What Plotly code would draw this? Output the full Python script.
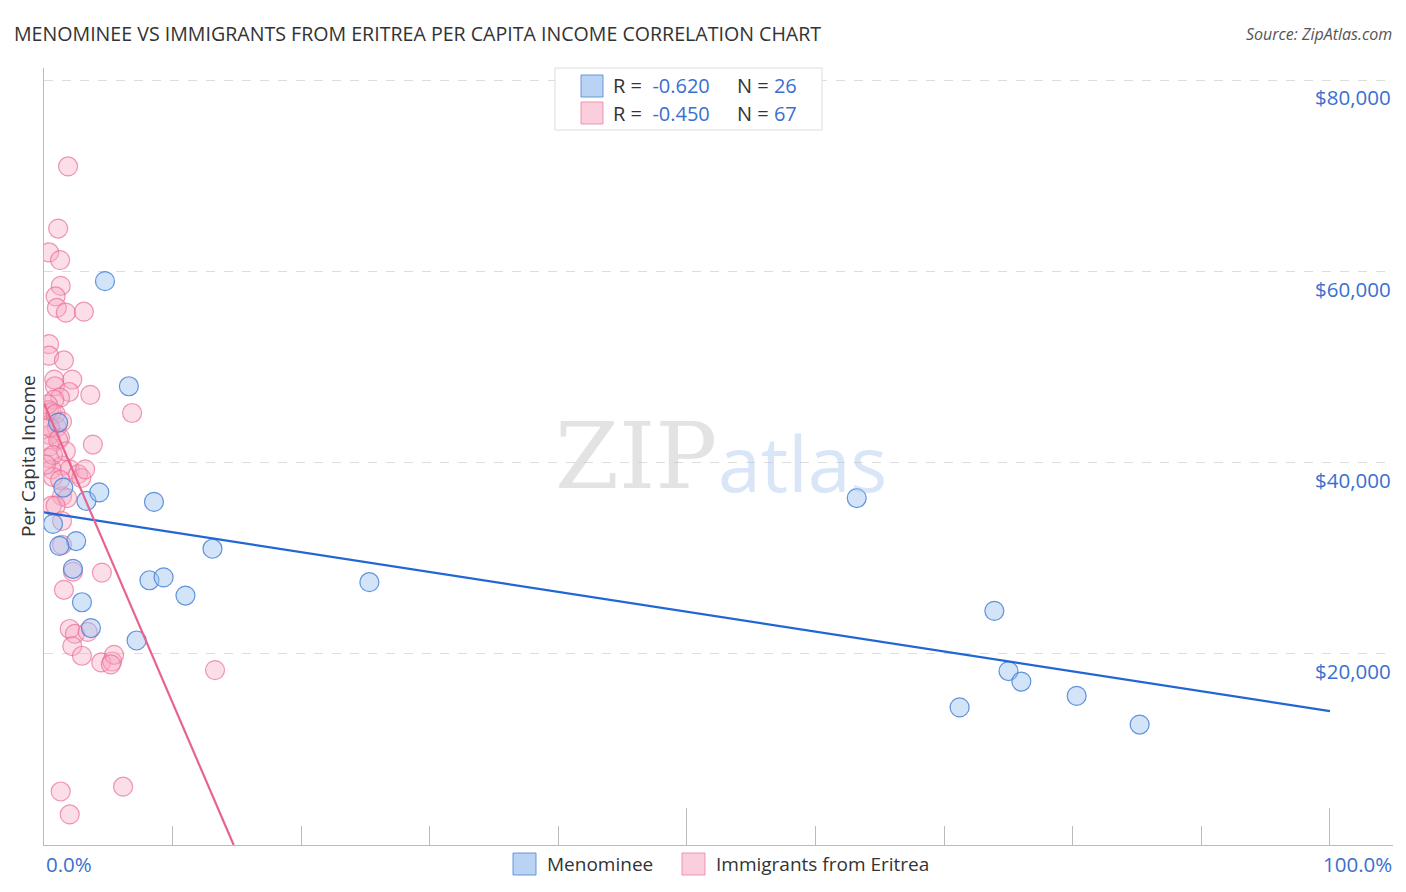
import plotly.graph_objects as go

# ---------------- data ----------------
menominee_x = [4.74, 6.6, 1.1, 1.5, 3.3, 4.3, 8.55, 0.7, 2.5, 1.2, 2.25, 13.1, 2.95,
               3.65, 7.2, 8.2, 9.3, 11.0, 25.3, 63.2, 73.9, 75.0, 76.0, 71.2, 80.3, 85.2]
menominee_y = [59000, 48000, 44200, 37400, 36000, 36900, 35900, 33600, 31800, 31300,
               28900, 31000, 25400, 22700, 21400, 27700, 28000, 26100, 27500, 36300,
               24500, 18200, 17100, 14400, 15600, 12600]

eritrea_x = [1.87, 1.1, 0.4, 1.25, 1.3, 0.9, 1.0, 3.1, 1.7, 0.4, 0.4, 1.55, 0.8, 2.2,
             0.85, 1.95, 3.6, 1.25, 0.8, 0.4, 0.6, 6.85, 0.2, 1.0, 0.45, 1.25, 3.8,
             0.45, 0.4, 1.4, 0.6, 2.0, 2.65, 2.9, 0.7, 1.4, 1.8, 0.6, 0.9, 1.4, 1.4,
             2.25, 4.5, 1.55, 2.0, 2.4, 3.4, 2.2, 2.95, 4.45, 5.3, 5.45, 13.3, 1.3,
             6.15, 2.0, 5.2, 0.3, 0.9, 1.4, 0.45, 1.1, 1.7, 0.7, 0.15, 3.2, 1.25]
eritrea_y = [71000, 64500, 62000, 61200, 58500, 57400, 56200, 55800, 55700, 52400,
             51200, 50700, 48700, 48700, 48000, 47400, 47100, 46800, 46600, 45500,
             45300, 45200, 43900, 43700, 42900, 42600, 41900, 41700, 40500, 39700,
             39300, 39300, 38800, 38400, 38500, 36500, 36300, 35500, 35500, 33900,
             31400, 28600, 28500, 26700, 22600, 22100, 22300, 20800, 19800, 19100,
             19200, 19900, 18300, 5600, 6100, 3200, 18900, 46100, 45100, 44300,
             43700, 42400, 41200, 40800, 39800, 39300, 38200]

# trend lines (endpoints)
blue_trend_x = [0, 100]
blue_trend_y = [34800, 14000]
pink_trend_x = [0, 14.75]
pink_trend_y = [46200, 0]

y_ticks = [20000, 40000, 60000, 80000]
y_tick_labels = ["$20,000", "$40,000", "$60,000", "$80,000"]

series_names = ["Menominee", "Immigrants from Eritrea"]
r_values = ["-0.620", "-0.450"]
n_values = ["26", "67"]

# ---------------- styles ----------------
BLUE_FILL = "rgba(160,196,240,0.45)"
BLUE_EDGE = "rgba(70,130,215,0.85)"
PINK_FILL = "rgba(246,168,195,0.38)"
PINK_EDGE = "rgba(232,110,150,0.7)"
BLUE_LINE = "#2166d4"
PINK_LINE = "#e8648e"
TXT_BLUE = "#3a6fd0"
TXT_DARK = "#333333"
FONT = "Open Sans"

# page offset (body margin) is 8px; figure is sized so the plot lands where the reference has it
OFF = 8
W, H = 1390, 876
PL, PR, PT, PB = 44, 1393, 68, 845        # plot box in page pixels
L, R, T, B = PL - OFF, W - (PR - OFF), PT - OFF, H - (PB - OFF)
pw, ph = PR - PL, PB - PT


def px(x):
    return (x - PL) / pw


def py(y):
    return (PB - y) / ph


fig = go.Figure()

fig.add_trace(go.Scatter(
    x=eritrea_x, y=eritrea_y, mode="markers", name=series_names[1],
    marker=dict(size=19, color=PINK_FILL, line=dict(color=PINK_EDGE, width=1.2)),
    showlegend=False, hoverinfo="skip"))
fig.add_trace(go.Scatter(
    x=menominee_x, y=menominee_y, mode="markers", name=series_names[0],
    marker=dict(size=19, color=BLUE_FILL, line=dict(color=BLUE_EDGE, width=1.2)),
    showlegend=False, hoverinfo="skip"))
fig.add_trace(go.Scatter(
    x=blue_trend_x, y=blue_trend_y, mode="lines",
    line=dict(color=BLUE_LINE, width=2.2), showlegend=False, hoverinfo="skip"))
fig.add_trace(go.Scatter(
    x=pink_trend_x, y=pink_trend_y, mode="lines",
    line=dict(color=PINK_LINE, width=2.2), showlegend=False, hoverinfo="skip"))

annotations = []
shapes = []

# title & source
annotations.append(dict(xref="paper", yref="paper", x=px(12), y=py(33),
                        xanchor="left", yanchor="middle", showarrow=False,
                        text="MENOMINEE VS IMMIGRANTS FROM ERITREA PER CAPITA INCOME CORRELATION CHART",
                        font=dict(family=FONT, size=19.6, color=TXT_DARK)))
annotations.append(dict(xref="paper", yref="paper", x=px(1394), y=py(34),
                        xanchor="right", yanchor="middle", showarrow=False,
                        text="<i>Source: ZipAtlas.com</i>",
                        font=dict(family=FONT, size=16, color="#555555")))

# y tick labels (right, inside, under gridlines)
for v, t in zip(y_ticks, y_tick_labels):
    annotations.append(dict(xref="paper", yref="y", x=1, y=v, xanchor="right", yanchor="middle",
                            yshift=-17, showarrow=False, text=t,
                            font=dict(family=FONT, size=20.5, color=TXT_BLUE)))

# x end labels
annotations.append(dict(xref="paper", yref="paper", x=px(44), y=py(864), xanchor="left",
                        yanchor="middle", showarrow=False, text="0.0%",
                        font=dict(family=FONT, size=20.5, color=TXT_BLUE)))
annotations.append(dict(xref="paper", yref="paper", x=px(1394), y=py(864), xanchor="right",
                        yanchor="middle", showarrow=False, text="100.0%",
                        font=dict(family=FONT, size=20.5, color=TXT_BLUE)))

# y axis title
annotations.append(dict(xref="paper", yref="paper", x=px(28), y=py(456), textangle=-90,
                        xanchor="center", yanchor="middle", showarrow=False,
                        text="Per Capita Income", font=dict(family=FONT, size=19, color=TXT_DARK)))

# watermark
annotations.append(dict(xref="paper", yref="paper", x=px(553), y=py(457),
                        xanchor="left", yanchor="middle", showarrow=False,
                        text="ZIP", font=dict(family="DejaVu Serif", size=92, color="rgba(200,200,200,0.5)")))
annotations.append(dict(xref="paper", yref="paper", x=px(716), y=py(462),
                        xanchor="left", yanchor="middle", showarrow=False,
                        text="atlas", font=dict(family=FONT, size=77, color="rgba(170,200,240,0.45)")))

# top stats box
shapes.append(dict(type="rect", xref="paper", yref="paper", x0=px(555), x1=px(822),
                   y0=py(130), y1=py(68), line=dict(color="#dddddd", width=1),
                   fillcolor="white", layer="above"))
box_rows = [(86, "rgba(160,196,240,0.75)", "rgba(90,140,215,0.9)"),
            (113, "rgba(250,190,210,0.75)", "rgba(235,140,170,0.9)")]
for i, (cy, fc, lc) in enumerate(box_rows):
    shapes.append(dict(type="rect", xref="paper", yref="paper", x0=px(581), x1=px(603),
                       y0=py(cy + 11), y1=py(cy - 11), line=dict(color=lc, width=1),
                       fillcolor=fc, layer="above"))
    annotations.append(dict(xref="paper", yref="paper", x=px(611), y=py(cy), xanchor="left",
                            yanchor="middle", showarrow=False,
                            text=f"<span style='color:{TXT_DARK}'>R = </span><span style='color:{TXT_BLUE}'>{r_values[i]}</span>",
                            font=dict(family=FONT, size=20)))
    annotations.append(dict(xref="paper", yref="paper", x=px(735), y=py(cy), xanchor="left",
                            yanchor="middle", showarrow=False,
                            text=f"<span style='color:{TXT_DARK}'>N = </span><span style='color:{TXT_BLUE}'>{n_values[i]}</span>",
                            font=dict(family=FONT, size=20)))
    # shift the R value slightly right, as in the reference spacing
    annotations[-2]["text"] = (f"<span style='color:{TXT_DARK}'>R = &nbsp;</span>"
                               f"<span style='color:{TXT_BLUE}'>{r_values[i]}</span>")

# bottom legend
leg = [(513, "rgba(160,196,240,0.75)", "rgba(90,140,215,0.9)", series_names[0]),
       (682, "rgba(250,190,210,0.75)", "rgba(235,140,170,0.9)", series_names[1])]
for x0, fc, lc, name in leg:
    shapes.append(dict(type="rect", xref="paper", yref="paper", x0=px(x0), x1=px(x0 + 23),
                       y0=py(875), y1=py(853), line=dict(color=lc, width=1), fillcolor=fc))
    annotations.append(dict(xref="paper", yref="paper", x=px(x0 + 32), y=py(864), xanchor="left",
                            yanchor="middle", showarrow=False, text=name,
                            font=dict(family=FONT, size=19, color=TXT_DARK)))

fig.update_layout(
    width=W, height=H,
    margin=dict(l=L, r=R, t=T, b=B),
    plot_bgcolor="white", paper_bgcolor="white",
    annotations=annotations, shapes=shapes,
    showlegend=False,
    xaxis=dict(range=[0, 104.9], showgrid=False, zeroline=False,
               showline=True, linecolor="#bbbbbb", linewidth=1,
               ticks="inside", tick0=0, dtick=50, ticklen=37, tickcolor="#bbbbbb",
               showticklabels=False,
               minor=dict(ticks="inside", tick0=0, dtick=10, ticklen=19, tickcolor="#bbbbbb", showgrid=False)),
    yaxis=dict(range=[0, 81300], showgrid=True, gridcolor="#dddddd", griddash="dash",
               tickvals=y_ticks, zeroline=False, showline=True, linecolor="#bbbbbb",
               linewidth=1, showticklabels=False, ticks=""),
)

fig.write_html("out.html")
